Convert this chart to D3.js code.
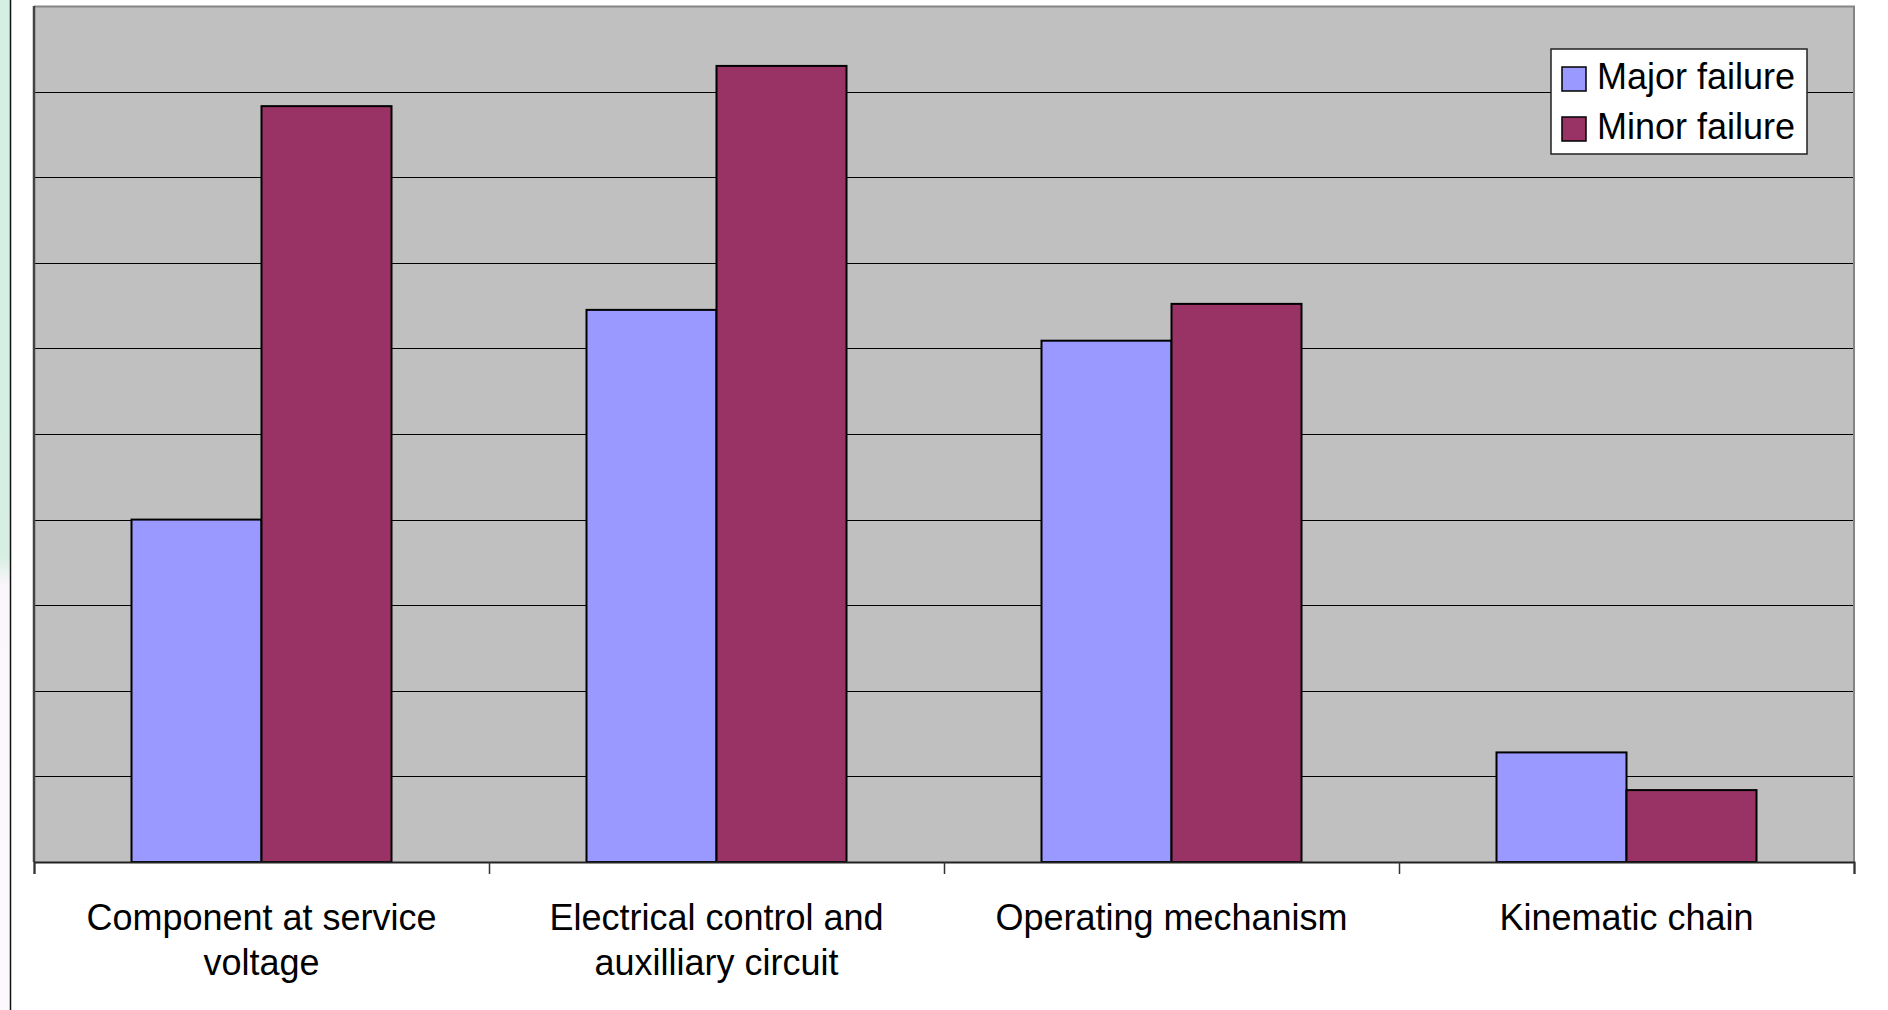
<!DOCTYPE html>
<html>
<head>
<meta charset="utf-8">
<script src="https://cdn.jsdelivr.net/npm/d3@7"></script>
<style>
  html, body { margin: 0; padding: 0; background: #ffffff; }
  svg { display: block; }
  text { font-family: "Liberation Sans", Arial, sans-serif; fill: #000; }
</style>
</head>
<body>
<svg id="chart" width="1888" height="1010"></svg>
<script>
// Failure counts per subassembly (in gridline units)
const categories = [
  ["Component at service", "voltage"],
  ["Electrical control and", "auxilliary circuit"],
  ["Operating mechanism"],
  ["Kinematic chain"]
];
const seriesNames = ["Major failure", "Minor failure"];
const majorFailure = [4.0, 6.45, 6.09, 1.28];
const minorFailure = [8.83, 9.30, 6.52, 0.84];
const seriesColors = ["#9999FF", "#993366"];
const yTicks = [0, 1, 2, 3, 4, 5, 6, 7, 8, 9, 10];

const svg = d3.select("#chart");
const W = 1888, H = 1010;
const plot = { left: 34, top: 6, right: 1854, bottom: 862 };

// Left decorative slide strip
const strip = svg.append("defs").append("linearGradient")
  .attr("id", "stripGrad").attr("x1", 0).attr("y1", 0).attr("x2", 0).attr("y2", 1);
strip.append("stop").attr("offset", "0%").attr("stop-color", "#d3f0e3");
strip.append("stop").attr("offset", "55%").attr("stop-color", "#d6efe2");
strip.append("stop").attr("offset", "58%").attr("stop-color", "#fbf6fb");
strip.append("stop").attr("offset", "100%").attr("stop-color", "#fdf8fd");
svg.append("rect").attr("x", 0).attr("y", 0).attr("width", 10).attr("height", H)
  .attr("fill", "url(#stripGrad)");
svg.append("line").attr("x1", 10.5).attr("x2", 10.5).attr("y1", 0).attr("y2", H)
  .attr("stroke", "#111").attr("stroke-width", 1.5);

const catIndex = d3.range(categories.length);
const x0 = d3.scaleBand().domain(catIndex).range([plot.left, plot.right]).paddingInner(0).paddingOuter(0);
const barW = x0.bandwidth() / 3.5;
const x1 = d3.scaleBand().domain([0, 1]).range([0, barW * 2]);
const y = d3.scaleLinear().domain([0, 10]).range([plot.bottom, plot.top]);

// Plot area background
svg.append("rect")
  .attr("x", plot.left).attr("y", plot.top)
  .attr("width", plot.right - plot.left).attr("height", plot.bottom - plot.top)
  .attr("fill", "#C0C0C0");

// Gridlines
svg.append("g").selectAll("line").data(yTicks.slice(1, -1)).join("line")
  .attr("x1", plot.left).attr("x2", plot.right)
  .attr("y1", d => Math.round(y(d)) + 0.5).attr("y2", d => Math.round(y(d)) + 0.5)
  .attr("stroke", "#000").attr("stroke-width", 1.2);

// Plot area frame (top and right)
svg.append("path")
  .attr("d", `M${plot.left},${plot.top + 0.5} H${plot.right} V${plot.bottom}`)
  .attr("fill", "none").attr("stroke", "#858585").attr("stroke-width", 2);

// Bars
const series = [majorFailure, minorFailure];
const groups = svg.append("g").selectAll("g").data(catIndex).join("g")
  .attr("transform", i => `translate(${x0(i) + (x0.bandwidth() - barW * 2) / 2},0)`);
groups.selectAll("rect").data(i => series.map((s, k) => ({ k, v: s[i] }))).join("rect")
  .attr("x", d => x1(d.k))
  .attr("y", d => y(d.v))
  .attr("width", barW)
  .attr("height", d => y(0) - y(d.v))
  .attr("fill", d => seriesColors[d.k])
  .attr("stroke", "#000").attr("stroke-width", 2);

// Value axis line (left)
svg.append("line")
  .attr("x1", plot.left).attr("x2", plot.left).attr("y1", plot.top).attr("y2", plot.bottom)
  .attr("stroke", "#444").attr("stroke-width", 2.5);

// Category axis with boundary ticks
const xAxis = d3.axisBottom(d3.scaleLinear().domain([0, categories.length]).range([plot.left, plot.right]))
  .tickValues(d3.range(categories.length + 1)).tickSize(12).tickFormat("");
const gx = svg.append("g").attr("transform", `translate(0,${plot.bottom})`).call(xAxis);
gx.select(".domain").attr("stroke", "#222").attr("stroke-width", 2);
gx.selectAll(".tick line").attr("stroke", "#333").attr("stroke-width", 1.5);

// Category labels
const labels = svg.append("g").selectAll("text").data(catIndex).join("text")
  .attr("x", i => x0(i) + x0.bandwidth() / 2)
  .attr("y", 930)
  .attr("text-anchor", "middle")
  .style("font-size", "36px");
labels.selectAll("tspan").data(i => categories[i]).join("tspan")
  .attr("x", function () { return d3.select(this.parentNode).attr("x"); })
  .attr("dy", (d, j) => j === 0 ? 0 : 45)
  .text(d => d);

// Legend
const lg = svg.append("g");
lg.append("rect").attr("x", 1551).attr("y", 49).attr("width", 256).attr("height", 105)
  .attr("fill", "#fff").attr("stroke", "#222").attr("stroke-width", 1.5);
const items = lg.selectAll("g").data(seriesNames).join("g")
  .attr("transform", (d, k) => `translate(1562,${67 + k * 50})`);
items.append("rect").attr("width", 24).attr("height", 24)
  .attr("fill", (d, k) => seriesColors[k]).attr("stroke", "#000").attr("stroke-width", 1.5);
items.append("text").attr("x", 35).attr("y", 22)
  .style("font-size", "36px").text(d => d);
</script>
</body>
</html>
